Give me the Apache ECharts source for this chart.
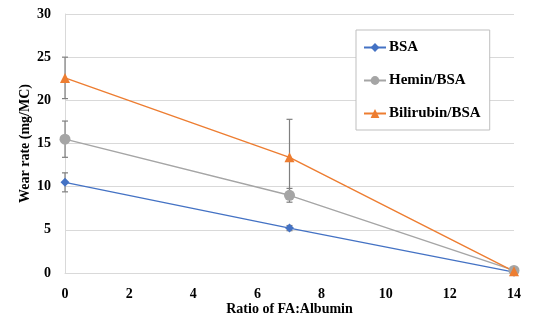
<!DOCTYPE html>
<html><head><meta charset="utf-8">
<script src="https://cdn.jsdelivr.net/npm/echarts@6/dist/echarts.min.js"></script>
<style>html,body{margin:0;padding:0;background:#fff}#c{width:550px;height:321px}</style>
</head><body><div id="c"></div>
<script>
var ratios = [0, 7, 14];
var seriesNames = ['BSA', 'Hemin/BSA', 'Bilirubin/BSA'];
var bsa = [10.5, 5.2, 0.1];
var hemin = [15.5, 9.0, 0.3];
var bilirubin = [22.6, 13.4, 0.2];
var bsaErr = [1.1, 0.3, 0.1];
var heminErr = [2.1, 0.8, 0.1];
var bilirubinErr = [2.4, 4.4, 0.1];
var xTicks = [0, 2, 4, 6, 8, 10, 12, 14];
var yTicks = [0, 5, 10, 15, 20, 25, 30];

var font = "'Liberation Serif', 'DejaVu Serif', serif";
var colors = ['#4472C4', '#A5A5A5', '#ED7D31'];
var symbols = ['diamond', 'circle', 'triangle'];
var symSizes = [9, 11, 10];
var values = [bsa, hemin, bilirubin];
var errs = [bsaErr, heminErr, bilirubinErr];

function errSeries(vals, err) {
  var d = ratios.map(function (x, i) { return [x, vals[i] - err[i], vals[i] + err[i]]; });
  return {
    type: 'custom', silent: true, z: 1,
    data: d,
    renderItem: function (params, api) {
      var x = api.value(0);
      var lo = api.coord([x, api.value(1)]);
      var hi = api.coord([x, api.value(2)]);
      var w = 3;
      var st = { stroke: '#7f7f7f', lineWidth: 1.2 };
      return { type: 'group', children: [
        { type: 'line', shape: { x1: lo[0], y1: lo[1], x2: hi[0], y2: hi[1] }, style: st },
        { type: 'line', shape: { x1: lo[0] - w, y1: lo[1], x2: lo[0] + w, y2: lo[1] }, style: st },
        { type: 'line', shape: { x1: hi[0] - w, y1: hi[1], x2: hi[0] + w, y2: hi[1] }, style: st }
      ]};
    }
  };
}

var series = [];
values.forEach(function (v, k) { series.push(errSeries(v, errs[k])); });
values.forEach(function (v, k) {
  series.push({
    name: seriesNames[k], type: 'line', z: 3,
    data: ratios.map(function (x, i) { return [x, v[i]]; }),
    symbol: symbols[k], symbolSize: symSizes[k], showSymbol: true,
    itemStyle: { color: colors[k] },
    lineStyle: { color: colors[k], width: 1.4 }
  });
});

var chart = echarts.init(document.getElementById('c'), null, { renderer: 'canvas' });
chart.setOption({
  animation: false,
  backgroundColor: '#fff',
  grid: { left: 65, right: 36, top: 14, bottom: 48, containLabel: false, outerBoundsMode: 'none' },
  legend: {
    data: seriesNames, orient: 'vertical', left: 356, top: 30,
    backgroundColor: '#fff', borderColor: '#bfbfbf', borderWidth: 1,
    padding: [10, 9, 9, 7], itemGap: 18, itemWidth: 22, itemHeight: 11,
    textStyle: { fontFamily: font, fontWeight: 'bold', fontSize: 15, color: '#000', padding: [0, 0, 0, -2] }
  },
  xAxis: {
    type: 'value', min: xTicks[0], max: xTicks[xTicks.length - 1], interval: 2,
    name: 'Ratio of FA:Albumin', nameLocation: 'middle', nameGap: 29, nameMoveOverlap: false,
    nameTextStyle: { fontFamily: font, fontWeight: 'bold', fontSize: 14, color: '#000' },
    axisLine: { show: true, lineStyle: { color: '#d9d9d9' } },
    axisTick: { show: false },
    splitLine: { show: false },
    axisLabel: { fontFamily: font, fontWeight: 'bold', fontSize: 14, color: '#000', margin: 14 }
  },
  yAxis: {
    type: 'value', min: yTicks[0], max: yTicks[yTicks.length - 1], interval: 5,
    name: 'Wear rate (mg/MC)', nameLocation: 'middle', nameGap: 33, nameRotate: 90, nameMoveOverlap: false,
    nameTextStyle: { fontFamily: font, fontWeight: 'bold', fontSize: 14, color: '#000' },
    axisLine: { show: true, lineStyle: { color: '#d9d9d9' } },
    axisTick: { show: false },
    splitLine: { show: true, lineStyle: { color: '#d9d9d9' } },
    axisLabel: { fontFamily: font, fontWeight: 'bold', fontSize: 14, color: '#000', margin: 14 }
  },
  series: series
});
</script></body></html>
